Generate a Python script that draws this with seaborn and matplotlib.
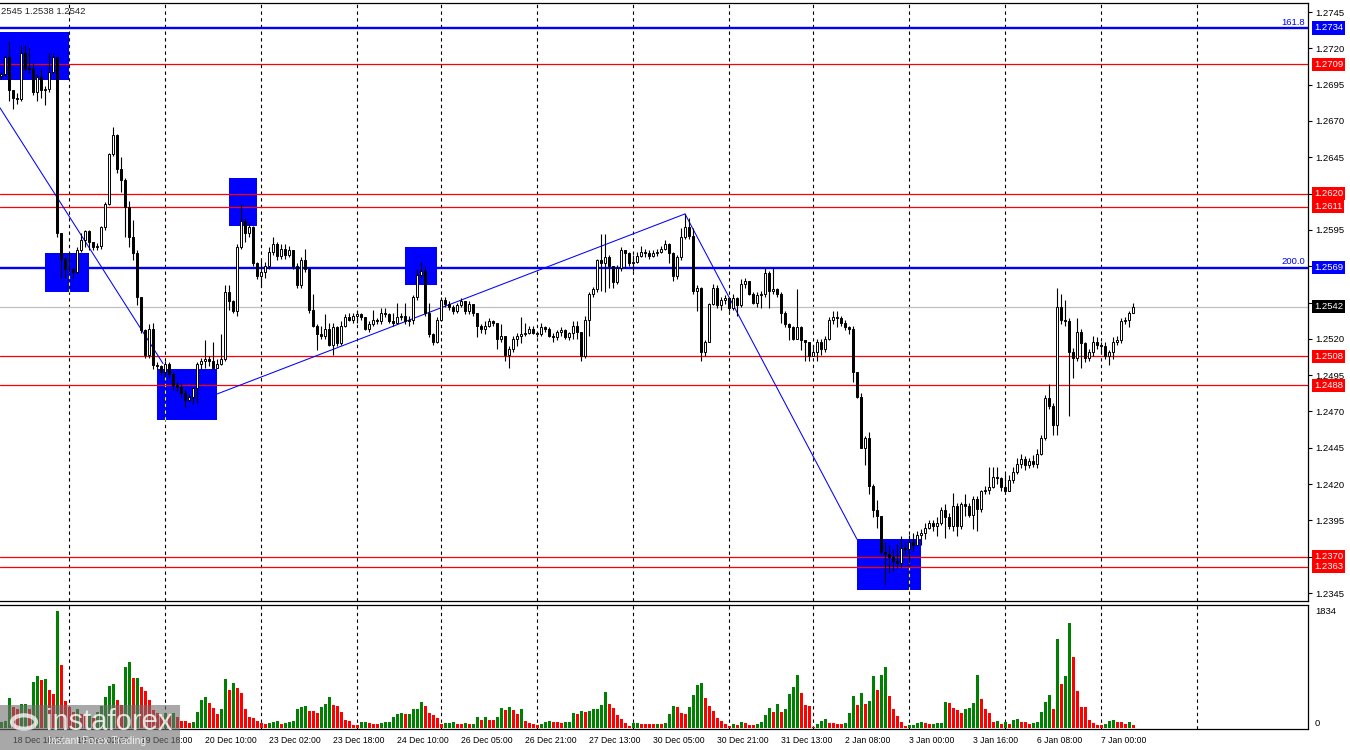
import numpy as np
import pandas as pd
import seaborn as sns
import matplotlib.pyplot as plt
from matplotlib.patches import Rectangle, Circle

# GBPUSD H1, 18 Dec 07:00 -> 7 Jan 08:00 (one entry per hour bar)
first_open = 1.2701
close_px = [
    # 18 Dec
    1.2702, 1.2714, 1.2691, 1.2686, 1.2685, 1.2717, 1.2706, 1.2706, 1.2690, 1.2700, 1.2691, 1.2692, 1.2704, 1.2714, 1.2593, 1.2575, 1.2568,
    # 19 Dec
    1.2568, 1.2566, 1.2581, 1.2588, 1.2594, 1.2587, 1.2583, 1.2584, 1.2597, 1.2613, 1.2647, 1.2660, 1.2637, 1.2629, 1.2611, 1.2590, 1.2579, 1.2549, 1.2526, 1.2509, 1.2527, 1.2502, 1.2501, 1.2497,
    # 20 Dec
    1.2503, 1.2496, 1.2488, 1.2487, 1.2483, 1.2478, 1.2480, 1.2486, 1.2503, 1.2505, 1.2506, 1.2505, 1.2500, 1.2503, 1.2506, 1.2552, 1.2546, 1.2539, 1.2583, 1.2601, 1.2593, 1.2597, 1.2572, 1.2563,
    # 23 Dec
    1.2566, 1.2570, 1.2580, 1.2585, 1.2577, 1.2582, 1.2578, 1.2581, 1.2570, 1.2557, 1.2574, 1.2568, 1.2540, 1.2529, 1.2523, 1.2522, 1.2527, 1.2516, 1.2528, 1.2517, 1.2529, 1.2535, 1.2533, 1.2536,
    # 24 Dec
    1.2537, 1.2535, 1.2527, 1.2530, 1.2533, 1.2532, 1.2538, 1.2537, 1.2532, 1.2531, 1.2535, 1.2536, 1.2532, 1.2533, 1.2549, 1.2564, 1.2567, 1.2538, 1.2523, 1.2518, 1.2533,
    # 26 Dec
    1.2547, 1.2544, 1.2542, 1.2539, 1.2543, 1.2546, 1.2539, 1.2544, 1.2538, 1.2529, 1.2527, 1.2529, 1.2532, 1.2531, 1.2520, 1.2522, 1.2509, 1.2513, 1.2520, 1.2522, 1.2523, 1.2524, 1.2527, 1.2524,
    # 27 Dec
    1.2523, 1.2528, 1.2527, 1.2522, 1.2521, 1.2525, 1.2526, 1.2521, 1.2524, 1.2529, 1.2525, 1.2508, 1.2533, 1.2551, 1.2554, 1.2574, 1.2572, 1.2576, 1.2570, 1.2559, 1.2569, 1.2581, 1.2579, 1.2572,
    # 30 Dec
    1.2573, 1.2577, 1.2580, 1.2579, 1.2577, 1.2579, 1.2580, 1.2582, 1.2585, 1.2579, 1.2563, 1.2576, 1.2590, 1.2597, 1.2591, 1.2553, 1.2555, 1.2511, 1.2518, 1.2544, 1.2555, 1.2543, 1.2547, 1.2548,
    # 31 Dec
    1.2541, 1.2548, 1.2543, 1.2558, 1.2560, 1.2551, 1.2545, 1.2550, 1.2551, 1.2565, 1.2553, 1.2554, 1.2551, 1.2538, 1.2530, 1.2528, 1.2520, 1.2528, 1.2519, 1.2518, 1.2508,
    # 2 Jan
    1.2511, 1.2518, 1.2513, 1.2520, 1.2533, 1.2535, 1.2534, 1.2531, 1.2528, 1.2527, 1.2497, 1.2480, 1.2445, 1.2452, 1.2419, 1.2402, 1.2398, 1.2373, 1.2372, 1.2370, 1.2367, 1.2366, 1.2376, 1.2375,
    # 3 Jan
    1.2380, 1.2378, 1.2385, 1.2386, 1.2390, 1.2393, 1.2391, 1.2393, 1.2402, 1.2397, 1.2391, 1.2405, 1.2391, 1.2406, 1.2405, 1.2399, 1.2410, 1.2403, 1.2415, 1.2416, 1.2418, 1.2425, 1.2424, 1.2418,
    # 6 Jan
    1.2415, 1.2423, 1.2428, 1.2434, 1.2437, 1.2433, 1.2436, 1.2434, 1.2441, 1.2452, 1.2479, 1.2474, 1.2461, 1.2542, 1.2533, 1.2532, 1.2511, 1.2507, 1.2525, 1.2517, 1.2507, 1.2511, 1.2518, 1.2516,
    # 7 Jan
    1.2515, 1.2508, 1.2511, 1.2518, 1.2519, 1.2532, 1.2533, 1.2538, 1.2542,
]
high_px = [
    1.2704, 1.2715, 1.2725, 1.2691, 1.2689, 1.2722, 1.2722, 1.2720, 1.2710, 1.2702, 1.2706, 1.2694, 1.2717, 1.2717, 1.2714, 1.2593, 1.2576,
    1.2579, 1.2569, 1.2583, 1.2593, 1.2595, 1.2595, 1.2587, 1.2586, 1.2598, 1.2614, 1.2648, 1.2666, 1.2661, 1.2645, 1.2631, 1.2615, 1.2602, 1.2581, 1.2549, 1.2527, 1.2530, 1.2531, 1.2504, 1.2502,
    1.2505, 1.2504, 1.2497, 1.2490, 1.2489, 1.2485, 1.2482, 1.2487, 1.2504, 1.2507, 1.2519, 1.2508, 1.2518, 1.2506, 1.2523, 1.2557, 1.2557, 1.2547, 1.2585, 1.2613, 1.2603, 1.2600, 1.2598, 1.2573,
    1.2574, 1.2573, 1.2583, 1.2590, 1.2587, 1.2585, 1.2585, 1.2584, 1.2579, 1.2572, 1.2576, 1.2582, 1.2569, 1.2551, 1.2530, 1.2529, 1.2537, 1.2531, 1.2531, 1.2529, 1.2532, 1.2537, 1.2538, 1.2538,
    1.2540, 1.2538, 1.2535, 1.2532, 1.2540, 1.2534, 1.2541, 1.2541, 1.2538, 1.2538, 1.2545, 1.2538, 1.2545, 1.2536, 1.2550, 1.2568, 1.2573, 1.2570, 1.2545, 1.2524, 1.2535,
    1.2549, 1.2549, 1.2546, 1.2543, 1.2545, 1.2548, 1.2546, 1.2546, 1.2544, 1.2538, 1.2530, 1.2532, 1.2534, 1.2533, 1.2531, 1.2530, 1.2522, 1.2515, 1.2522, 1.2524, 1.2535, 1.2531, 1.2529, 1.2529,
    1.2525, 1.2531, 1.2529, 1.2528, 1.2524, 1.2526, 1.2528, 1.2527, 1.2525, 1.2532, 1.2532, 1.2525, 1.2536, 1.2552, 1.2556, 1.2575, 1.2592, 1.2592, 1.2578, 1.2570, 1.2571, 1.2583, 1.2581, 1.2580,
    1.2578, 1.2580, 1.2584, 1.2582, 1.2581, 1.2581, 1.2582, 1.2584, 1.2588, 1.2586, 1.2580, 1.2578, 1.2596, 1.2606, 1.2603, 1.2596, 1.2557, 1.2556, 1.2519, 1.2545, 1.2558, 1.2557, 1.2549, 1.2550,
    1.2549, 1.2551, 1.2549, 1.2561, 1.2562, 1.2560, 1.2552, 1.2552, 1.2553, 1.2569, 1.2567, 1.2569, 1.2555, 1.2552, 1.2539, 1.2531, 1.2529, 1.2554, 1.2529, 1.2519, 1.2518,
    1.2516, 1.2520, 1.2520, 1.2522, 1.2535, 1.2539, 1.2539, 1.2536, 1.2533, 1.2529, 1.2529, 1.2497, 1.2483, 1.2453, 1.2456, 1.2420, 1.2409, 1.2398, 1.2380, 1.2378, 1.2375, 1.2379, 1.2384, 1.2380,
    1.2385, 1.2386, 1.2388, 1.2389, 1.2393, 1.2395, 1.2395, 1.2397, 1.2404, 1.2406, 1.2400, 1.2414, 1.2407, 1.2408, 1.2413, 1.2407, 1.2412, 1.2412, 1.2416, 1.2419, 1.2432, 1.2432, 1.2432, 1.2425,
    1.2427, 1.2426, 1.2432, 1.2438, 1.2441, 1.2439, 1.2438, 1.2440, 1.2444, 1.2454, 1.2481, 1.2489, 1.2476, 1.2555, 1.2551, 1.2547, 1.2534, 1.2514, 1.2534, 1.2527, 1.2518, 1.2513, 1.2522, 1.2521,
    1.2518, 1.2518, 1.2512, 1.2521, 1.2522, 1.2534, 1.2535, 1.2539, 1.2545,
]
low_px = [
    1.2699, 1.2701, 1.2684, 1.2678, 1.2682, 1.2684, 1.2705, 1.2703, 1.2688, 1.2684, 1.2686, 1.2681, 1.2690, 1.2703, 1.2590, 1.2562, 1.2562,
    1.2566, 1.2562, 1.2565, 1.2580, 1.2583, 1.2581, 1.2581, 1.2581, 1.2582, 1.2595, 1.2612, 1.2646, 1.2634, 1.2621, 1.2590, 1.2583, 1.2574, 1.2543, 1.2524, 1.2507, 1.2507, 1.2499, 1.2499, 1.2495,
    1.2494, 1.2494, 1.2485, 1.2484, 1.2480, 1.2473, 1.2477, 1.2475, 1.2476, 1.2499, 1.2500, 1.2501, 1.2499, 1.2500, 1.2502, 1.2505, 1.2540, 1.2538, 1.2536, 1.2582, 1.2587, 1.2590, 1.2570, 1.2561,
    1.2556, 1.2562, 1.2568, 1.2578, 1.2574, 1.2575, 1.2575, 1.2576, 1.2568, 1.2555, 1.2555, 1.2566, 1.2538, 1.2528, 1.2512, 1.2520, 1.2520, 1.2515, 1.2509, 1.2515, 1.2516, 1.2528, 1.2532, 1.2531,
    1.2531, 1.2533, 1.2526, 1.2525, 1.2529, 1.2530, 1.2530, 1.2535, 1.2531, 1.2529, 1.2530, 1.2533, 1.2530, 1.2529, 1.2530, 1.2547, 1.2562, 1.2536, 1.2521, 1.2516, 1.2517,
    1.2532, 1.2542, 1.2540, 1.2537, 1.2538, 1.2542, 1.2537, 1.2537, 1.2536, 1.2521, 1.2524, 1.2523, 1.2528, 1.2529, 1.2513, 1.2518, 1.2505, 1.2500, 1.2511, 1.2515, 1.2517, 1.2522, 1.2523, 1.2523,
    1.2521, 1.2522, 1.2525, 1.2521, 1.2518, 1.2519, 1.2522, 1.2520, 1.2519, 1.2520, 1.2520, 1.2505, 1.2507, 1.2522, 1.2549, 1.2552, 1.2553, 1.2552, 1.2555, 1.2555, 1.2558, 1.2567, 1.2569, 1.2570,
    1.2567, 1.2572, 1.2576, 1.2576, 1.2575, 1.2576, 1.2577, 1.2579, 1.2581, 1.2572, 1.2560, 1.2561, 1.2574, 1.2589, 1.2589, 1.2551, 1.2539, 1.2505, 1.2508, 1.2518, 1.2543, 1.2541, 1.2540, 1.2544,
    1.2539, 1.2540, 1.2536, 1.2542, 1.2555, 1.2550, 1.2544, 1.2542, 1.2541, 1.2549, 1.2541, 1.2551, 1.2549, 1.2531, 1.2528, 1.2519, 1.2519, 1.2520, 1.2512, 1.2505, 1.2505,
    1.2508, 1.2505, 1.2509, 1.2511, 1.2519, 1.2530, 1.2528, 1.2529, 1.2526, 1.2523, 1.2490, 1.2479, 1.2445, 1.2433, 1.2413, 1.2397, 1.2390, 1.2372, 1.2351, 1.2359, 1.2360, 1.2362, 1.2363, 1.2372,
    1.2366, 1.2374, 1.2378, 1.2378, 1.2382, 1.2389, 1.2388, 1.2384, 1.2392, 1.2383, 1.2389, 1.2388, 1.2384, 1.2389, 1.2398, 1.2397, 1.2389, 1.2388, 1.2401, 1.2413, 1.2413, 1.2417, 1.2420, 1.2415,
    1.2413, 1.2415, 1.2421, 1.2427, 1.2431, 1.2430, 1.2431, 1.2432, 1.2431, 1.2440, 1.2450, 1.2472, 1.2454, 1.2454, 1.2530, 1.2529, 1.2467, 1.2493, 1.2505, 1.2500, 1.2504, 1.2505, 1.2508, 1.2513,
    1.2510, 1.2506, 1.2502, 1.2506, 1.2516, 1.2517, 1.2530, 1.2528, 1.2538,
]
volume = [
    95, 105, 475, 330, 300, 370, 380, 300, 726, 814, 752, 767, 595, 532, 1832, 987, 420,
    330, 250, 300, 220, 180, 200, 160, 250, 350, 491, 663, 689, 438, 360, 950, 1034, 788, 790, 647, 585, 438, 280, 230, 190,
    240, 200, 230, 170, 115, 110, 73, 99, 256, 438, 491, 386, 308, 219, 298, 767, 595, 710, 632, 553, 303, 167, 151, 115,
    73, 63, 84, 99, 104, 63, 84, 88, 115, 292, 334, 350, 271, 265, 230, 334, 376, 491, 360, 345, 256, 125, 115, 50,
    45, 90, 95, 73, 70, 68, 84, 88, 99, 178, 219, 230, 219, 225, 298, 300, 407, 345, 230, 204, 151,
    63, 73, 84, 90, 63, 60, 84, 63, 70, 167, 125, 178, 125, 120, 178, 318, 282, 334, 282, 219, 298, 110, 84, 63,
    47, 57, 99, 115, 89, 86, 84, 86, 99, 240, 219, 271, 256, 271, 298, 303, 360, 569, 376, 318, 204, 141, 78, 31,
    78, 80, 63, 62, 61, 60, 63, 62, 84, 219, 345, 334, 240, 219, 334, 517, 673, 710, 475, 345, 271, 162, 115, 63,
    37, 63, 47, 89, 78, 47, 45, 63, 94, 204, 318, 251, 376, 251, 298, 532, 637, 830, 553, 360, 345,
    10, 57, 115, 141, 78, 73, 63, 62, 84, 230, 501, 360, 543, 376, 428, 814, 595, 830, 950, 501, 298, 188, 99, 31,
    47, 50, 73, 89, 78, 63, 65, 78, 80, 402, 386, 318, 282, 240, 298, 318, 392, 830, 454, 298, 235, 94, 110, 68,
    94, 57, 120, 141, 99, 89, 63, 84, 89, 251, 407, 517, 298, 1394, 689, 819, 1644, 1112, 584, 334, 330, 125, 73, 47,
    40, 57, 110, 125, 99, 97, 63, 89, 47,
]

# time axis labels (bar index of each label) and day separators
time_labels = ["18 Dec 10:00", "19 Dec 02:00", "19 Dec 18:00", "20 Dec 10:00", "23 Dec 02:00",
               "23 Dec 18:00", "24 Dec 10:00", "26 Dec 05:00", "26 Dec 21:00", "27 Dec 13:00",
               "30 Dec 05:00", "30 Dec 21:00", "31 Dec 13:00", "2 Jan 08:00", "3 Jan 00:00",
               "3 Jan 16:00", "6 Jan 08:00", "7 Jan 00:00"]
time_label_bars = [3, 19, 35, 51, 67, 83, 99, 115, 131, 147, 163, 179, 195, 211, 227, 243, 259, 275]
day_start_bars = [17, 41, 65, 89, 110, 134, 158, 182, 203, 227, 251, 275, 299]

price_ticks = [1.2345, 1.2370, 1.2395, 1.2420, 1.2445, 1.2470, 1.2495, 1.2520, 1.2545,
               1.2570, 1.2595, 1.2620, 1.2645, 1.2670, 1.2695, 1.2720, 1.2745]

# levels drawn on the chart
red_levels = [1.2709, 1.2620, 1.2611, 1.2508, 1.2488, 1.2370, 1.2363]
blue_levels = [1.2734, 1.2569]
fib_names = ["161.8", "200.0"]
last_price = 1.2542

# blue zones (bar from, bar to, price low, price high)
zone_x0 = [-0.25, 11, 39, 57, 101, 214]
zone_x1 = [17, 22, 54, 64, 109, 230]
zone_lo = [1.2698, 1.2552, 1.2464, 1.2598, 1.2557, 1.2347]
zone_hi = [1.2731, 1.2579, 1.2499, 1.2631, 1.2583, 1.2382]

# thin blue trend lines
trend_x0 = [-0.25, 54, 171]
trend_y0 = [1.2679, 1.2482, 1.2606]
trend_x1 = [40.5, 171, 214]
trend_y1 = [1.2503, 1.2606, 1.2382]

sns.set_theme(style="white")
plt.rcParams['font.family'] = ['Liberation Sans', 'DejaVu Sans']

df = pd.DataFrame({
    'bar': np.arange(len(close_px)),
    'open': [first_open] + close_px[:-1],
    'high': high_px,
    'low': low_px,
    'close': close_px,
    'volume': volume,
})
df['up'] = df['close'] >= df['open']
df['vdir'] = np.where(df['volume'].diff().fillna(1) > 0, 'up', 'down')

W, H = 1350, 750
fig = plt.figure(figsize=(W / 100, H / 100), dpi=100)
ax = fig.add_axes([0, (H - 601) / H, 1308 / W, (601 - 3) / H])
axv = fig.add_axes([0, (H - 729) / H, 1308 / W, (729 - 605) / H])

x_lim = (-0.25, 326.75)
grid_dash = (0, (3, 3))

# ---- price panel ----
for x0, x1, lo, hi in zip(zone_x0, zone_x1, zone_lo, zone_hi):
    ax.add_patch(Rectangle((x0, lo), x1 - x0, hi - lo, facecolor='#0000FF', edgecolor='none', zorder=1))

for b in day_start_bars:
    ax.axvline(b, color='black', lw=0.8, ls=grid_dash, zorder=1.5)
# grid dashes show up yellow where they cross a blue zone
for x0, x1, lo, hi in zip(zone_x0, zone_x1, zone_lo, zone_hi):
    for b in day_start_bars:
        if x0 < b < x1:
            ax.vlines(b, lo, hi, color='#FFFF00', lw=0.8, ls=grid_dash, zorder=1.55)

ax.axhline(last_price, color='#C0C0C0', lw=0.9, zorder=1.6)
for lev in red_levels:
    ax.axhline(lev, color='#FF0000', lw=0.9, zorder=1.7)
for lev in blue_levels:
    ax.axhline(lev, color='#0000FF', lw=1.7, zorder=1.7)

for x0, y0, x1, y1 in zip(trend_x0, trend_y0, trend_x1, trend_y1):
    ax.plot([x0, x1], [y0, y1], color='#0000FF', lw=0.75, zorder=1.8)

ax.vlines(df['bar'], df['low'], df['high'], color='black', lw=0.8, zorder=3)
body_lo = np.minimum(df['open'], df['close'])
body_h = np.maximum((df['close'] - df['open']).abs(), 0.00002)
ax.bar(df['bar'], body_h, bottom=body_lo, width=0.55,
       color=np.where(df['up'], 'white', 'black'), edgecolor='black', linewidth=0.7, zorder=4)

ax.set_xlim(*x_lim)
ax.set_ylim(1.23395, 1.27512)
ax.set_xticks([])
ax.yaxis.tick_right()
ax.set_yticks(price_ticks)
ax.set_yticklabels([f"{t:.4f}" for t in price_ticks])
ax.tick_params(axis='y', direction='out', length=3, width=0.8, pad=2, labelsize=6.8, colors='black')
for side in ['top', 'right', 'bottom']:
    ax.spines[side].set_color('black')
    ax.spines[side].set_linewidth(0.9)
ax.spines['left'].set_visible(False)

def price_tag(level, face):
    ax.annotate(f"{level:.4f}", xy=(1, level), xycoords=('axes fraction', 'data'),
                xytext=(4.2, 0), textcoords='offset points', ha='left', va='center',
                color='white', fontsize=6.8, annotation_clip=False, zorder=6,
                bbox=dict(boxstyle='square,pad=0.22', fc=face, ec='none'))

for lev in red_levels:
    price_tag(lev, '#FF0000')
for lev in blue_levels:
    price_tag(lev, '#0000FF')
price_tag(last_price, 'black')

for lev, name in zip(blue_levels, fib_names):
    ax.annotate(name, xy=(1, lev), xycoords=('axes fraction', 'data'), xytext=(-2, 1),
                textcoords='offset points', ha='right', va='bottom', color='#0000FF', fontsize=6.8)

# ---- volume panel ----
sns.barplot(data=df, x='bar', y='volume', hue='vdir', palette={'up': '#008000', 'down': '#FF0000'},
            native_scale=True, width=0.75, dodge=False, legend=False, errorbar=None,
            saturation=1, linewidth=0, ax=axv)
for b in day_start_bars:
    axv.axvline(b, color='black', lw=0.8, ls=grid_dash, zorder=0.5)
axv.set_xlim(*x_lim)
axv.set_ylim(-16, 1928)
axv.set_xlabel('')
axv.set_ylabel('')
axv.yaxis.tick_right()
axv.set_yticks([0, 1834])
axv.set_yticklabels(['0', '1834'])
axv.get_yticklabels()[0].set_va('bottom')
axv.tick_params(axis='y', length=0, pad=5, labelsize=6.8, colors='black')
axv.set_xticks(time_label_bars)
axv.set_xticklabels(time_labels, ha='left')
axv.tick_params(axis='x', direction='out', length=3, width=0.8, pad=2, labelsize=6.2, colors='black')
for side in ['top', 'right', 'bottom']:
    axv.spines[side].set_color('black')
    axv.spines[side].set_linewidth(0.9)
axv.spines['left'].set_visible(False)

# header text (cut-off OHLC line)
fig.text(1 / W, 1 - 11 / H, "2545 1.2538 1.2542", fontsize=6.8, va='center', ha='left')

# watermark
fig.add_artist(Rectangle((0, 0), 180 / W, 45 / H, transform=fig.transFigure,
                         facecolor='#6f6f6f', alpha=0.6, edgecolor='none', zorder=10))
fig.add_artist(Circle((24 / W, 1 - 722 / H), 12 / W, transform=fig.transFigure,
                      facecolor='none', edgecolor='white', lw=3, alpha=0.75, zorder=11))
fig.text(46 / W, 1 - 722 / H, "instaforex", fontsize=21, color='white', alpha=0.8,
         va='center', ha='left', zorder=11)
fig.text(48 / W, 1 - 741 / H, "Instant Forex Trading", fontsize=7.5, color='white', alpha=0.8,
         va='center', ha='left', zorder=11)

fig.savefig('out.png', dpi=100)
